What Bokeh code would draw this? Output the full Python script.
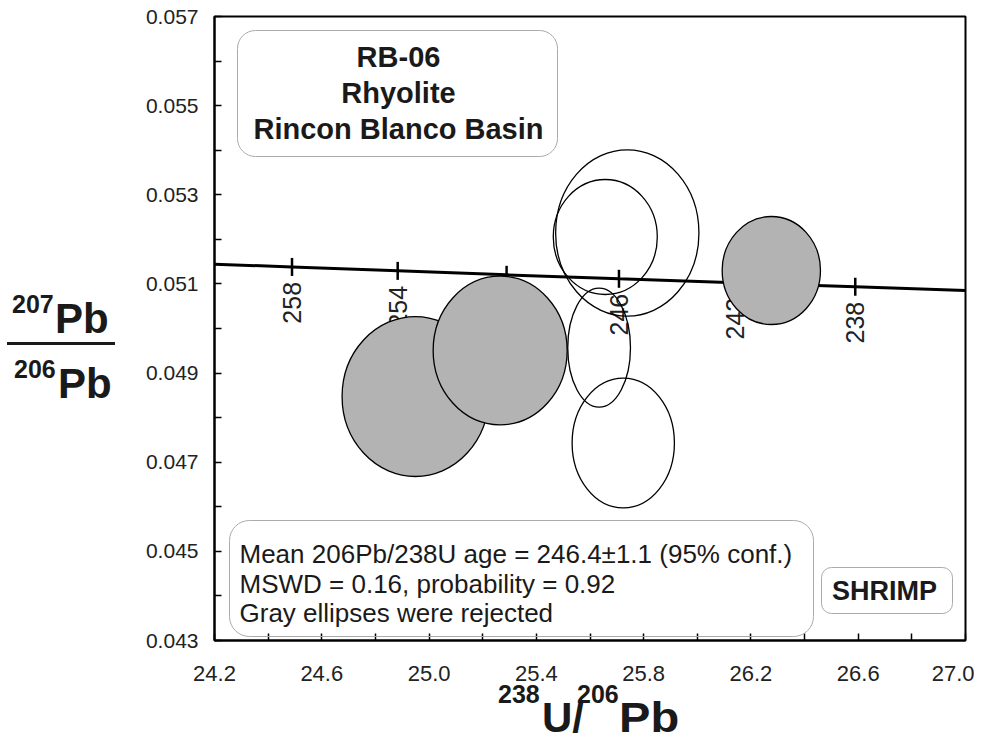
import numpy as np
from bokeh.plotting import figure
from bokeh.layouts import row, column
from bokeh.models import (FixedTicker, PrintfTickFormatter, Label, BoxAnnotation, Range1d, Div)
from bokeh.core.properties import value
from bokeh.embed import file_html
from bokeh.resources import INLINE

# ---------------- data ----------------
x_major = [24.2, 24.6, 25.0, 25.4, 25.8, 26.2, 26.6, 27.0]
x_minor = [24.4, 24.8, 25.2, 25.6, 26.0, 26.4, 26.8]
y_major = [0.043, 0.045, 0.047, 0.049, 0.051, 0.053, 0.055, 0.057]
y_minor = [0.044, 0.046, 0.048, 0.050, 0.052, 0.054, 0.056]

# concordia age marks (Ma) and their positions
conc_age = [258, 254, 250, 246, 242, 238]
conc_x = [24.489, 24.883, 25.289, 25.708, 26.141, 26.589]
conc_y = [0.051381, 0.051293, 0.051204, 0.051115, 0.051026, 0.050937]
conc_end_x = [24.2, 27.0]
conc_end_y = [0.051442, 0.050850]

# error ellipses
ell_x = [24.949, 25.265, 26.276, 25.739, 25.657, 25.634, 25.724]
ell_y = [0.048474, 0.049506, 0.051301, 0.052143, 0.052053, 0.049569, 0.047431]
ell_w = [0.5466, 0.4996, 0.3665, 0.5343, 0.3878, 0.2338, 0.3814]
ell_h = [0.003590, 0.003334, 0.002423, 0.003731, 0.002580, 0.002670, 0.002910]
ell_rejected = [True, True, True, False, False, False, False]

title_lines = ["RB-06", "Rhyolite", "Rincon Blanco Basin"]
stats_lines = ["Mean 206Pb/238U age = 246.4\u00b11.1 (95% conf.)",
               "MSWD = 0.16, probability = 0.92",
               "Gray ellipses were rejected"]
method_label = "SHRIMP"
y_title = [("207", "Pb"), ("206", "Pb")]
x_title = [("238", "U/"), ("206", "Pb")]

# ---------------- layout geometry ----------------
XMIN, XMAX, YMIN, YMAX = 24.2, 27.0, 0.043, 0.057
FONT = "Liberation Sans"
W, H = 974, 743
DW = 130                 # width of the y-title column
PH = 694                 # height of the plot
FL, FR, FT, FB = 214.0, 965.0, 16.0, 640.0   # frame edges in page pixels

p = figure(width=W - DW, height=PH, output_backend="svg", toolbar_location=None,
           x_range=Range1d(XMIN, XMAX), y_range=Range1d(YMIN, YMAX),
           min_border_left=int(FL - DW), min_border_right=int(W - FR),
           min_border_top=int(FT), min_border_bottom=int(PH - FB), margin=0)
p.background_fill_color = "white"
p.border_fill_color = "white"
p.outline_line_color = "black"
p.outline_line_width = 2
p.xgrid.grid_line_color = None
p.ygrid.grid_line_color = None

def X(px):
    return XMIN + (px - FL) * (XMAX - XMIN) / (FR - FL)
def Y(py):
    return YMAX - (py - FT) * (YMAX - YMIN) / (FB - FT)

for ax, major, minor, fmt, fs, so in ((p.xaxis, x_major, x_minor, "%.1f", "22px", 25),
                                      (p.yaxis, y_major, y_minor, "%.3f", "21px", 16)):
    ax.ticker = FixedTicker(ticks=major, minor_ticks=minor)
    ax.formatter = PrintfTickFormatter(format=fmt)
    ax.axis_line_color = "black"
    ax.axis_line_width = 2
    ax.major_tick_in = 7
    ax.major_tick_out = 0
    ax.minor_tick_in = 7
    ax.minor_tick_out = 0
    ax.major_tick_line_width = 1.5
    ax.minor_tick_line_width = 1.5
    ax.major_tick_line_color = "black"
    ax.minor_tick_line_color = "black"
    ax.major_label_text_font = FONT
    ax.major_label_text_font_size = fs
    ax.major_label_text_color = "#222222"
    ax.major_label_standoff = so

# concordia
cx_line = [conc_end_x[0]] + conc_x + [conc_end_x[1]]
cy_line = [conc_end_y[0]] + conc_y + [conc_end_y[1]]
p.line(cx_line, cy_line, line_color="black", line_width=3)
p.scatter(conc_x, conc_y, marker="dash", size=18, angle=np.pi / 2,
          line_color="black", line_width=2.5)
p.text(x=conc_x, y=conc_y, text=[str(a) for a in conc_age], angle=np.pi / 2,
       text_align="right", text_baseline="middle", y_offset=15,
       text_font=value(FONT), text_font_size=value("25px"), text_color="#222222")

# ellipses
rej = [i for i, r in enumerate(ell_rejected) if r]
acc = [i for i, r in enumerate(ell_rejected) if not r]
p.ellipse(x=[ell_x[i] for i in rej], y=[ell_y[i] for i in rej],
          width=[ell_w[i] for i in rej], height=[ell_h[i] for i in rej],
          fill_color="#b3b3b3", line_color="black", line_width=1.3)
p.ellipse(x=[ell_x[i] for i in acc], y=[ell_y[i] for i in acc],
          width=[ell_w[i] for i in acc], height=[ell_h[i] for i in acc],
          fill_color=None, line_color="black", line_width=1.3)

# boxes
def rbox(l, r, t, b, rad):
    p.add_layout(BoxAnnotation(left=X(l), right=X(r), top=Y(t), bottom=Y(b),
                               fill_color=None, line_color="#aaaaaa", line_width=1,
                               line_alpha=1.0, border_radius=rad, level="annotation"))

rbox(237, 557, 30, 156, 18)
rbox(229, 813, 520, 636, 20)
rbox(821, 952, 567, 613, 10)

BASE_CORR = 0.38  # empirical offset of the alphabetic baseline (in em)

def lab(txt, px, py, size, bold=False, align="left", color="#1a1a1a"):
    py = py - BASE_CORR * size
    p.add_layout(Label(x=X(px), y=Y(py), text=txt, text_font=FONT,
                       text_font_size=f"{size}px",
                       text_font_style="bold" if bold else "normal",
                       text_align=align, text_baseline="alphabetic", text_color=color))

for txt, py in zip(title_lines, [68, 104, 140]):
    lab(txt, 398, py, 29, bold=True, align="center")
for txt, py in zip(stats_lines, [563, 593, 622]):
    lab(txt, 239, py, 26)
lab(method_label, 884, 601, 27, bold=True, align="center")

# ---------------- axis titles (HTML, with superscripts) ----------------
ASC = 0.8465  # baseline position inside a line box of line-height 1em

def span(txt, left, baseline, size, y0, sx=1.0):
    top = baseline - y0 - ASC * size
    tf = f"transform:scaleX({sx});transform-origin:left center;" if sx != 1.0 else ""
    return (f'<span style="position:absolute;left:{left}px;top:{top:.1f}px;{tf}'
            f"font-family:'{FONT}',Arial,sans-serif;font-weight:bold;font-size:{size}px;"
            f'line-height:{size}px;color:#1a1a1a;white-space:nowrap">{txt}</span>')

# y title: fraction 207Pb / 206Pb
yparts = [
    span(y_title[0][0], 12, 313, 25, 0), span(y_title[0][1], 55, 334, 42, 0),
    '<span style="position:absolute;left:7px;top:341.5px;width:108px;height:3px;'
    'background:#1a1a1a"></span>',
    span(y_title[1][0], 14, 378, 25, 0), span(y_title[1][1], 58, 399, 42, 0),
]
div_y = Div(text=f'<div style="position:relative;width:{DW}px;height:{H}px;overflow:visible">'
                 + "".join(yparts) + "</div>",
            width=DW, height=H, margin=0, styles={"overflow": "visible"})

# x title: 238U/206Pb
XB = 733          # baseline of the main x-title text
XS = 703          # baseline of its superscripts
xparts = [
    span(x_title[0][0], 498 - DW, XS, 25, PH), span(x_title[0][1], 542 - DW, XB, 42, PH),
    span(x_title[1][0], 577 - DW, XS, 25, PH), span(x_title[1][1], 619 - DW, XB, 42, PH, 1.12),
]
div_x = Div(text=f'<div style="position:relative;width:{W - DW}px;height:{H - PH}px;overflow:visible">'
                 + "".join(xparts) + "</div>",
            width=W - DW, height=H - PH, margin=0, styles={"overflow": "visible"})

layout = row(div_y, column(p, div_x, spacing=0, margin=0), spacing=0, margin=0)

open("out.html", "w").write(file_html(layout, INLINE, title="RB-06 Tera-Wasserburg"))
